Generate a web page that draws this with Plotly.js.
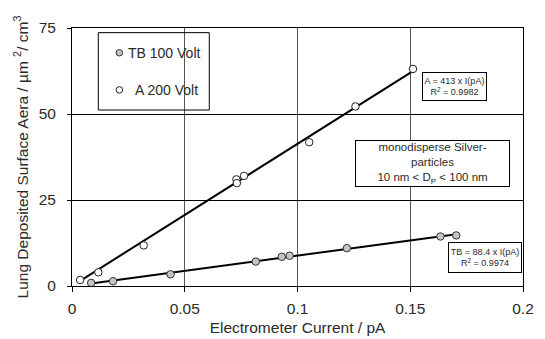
<!DOCTYPE html>
<html>
<head>
<meta charset="utf-8">
<script src="https://cdn.plot.ly/plotly-3.0.1.min.js"></script>
<style>html,body{margin:0;padding:0;background:#fff;}#chart{width:545px;height:339px;}</style>
</head>
<body>
<div id="chart"></div>
<script>
// Series A (200 Volt), open circles
var aX = [0.0036, 0.0117, 0.0318, 0.0729, 0.0731, 0.0763, 0.1052, 0.1257, 0.1512];
var aY = [1.75, 3.98, 11.8, 31.0, 29.9, 32.0, 41.8, 52.2, 63.1];
// Series TB (100 Volt), gray filled circles
var tbX = [0.0085, 0.0182, 0.0437, 0.0815, 0.0930, 0.0965, 0.1219, 0.1634, 0.1704];
var tbY = [0.9, 1.4, 3.4, 7.1, 8.5, 8.8, 11.0, 14.4, 14.7];
// Linear fit lines (end points)
var fitAX = [0.004, 0.151];
var fitAY = [1.65, 62.4];
var fitTBX = [0.0085, 0.1705];
var fitTBY = [0.75, 15.07];
// Axis ticks
var xTicks = [0, 0.05, 0.1, 0.15, 0.2];
var xTickText = ['0', '0.05', '0.1', '0.15', '0.2'];
var yTicks = [0, 25, 50, 75];
// Texts
var legendNames = ['TB 100 Volt', 'A 200 Volt'];
var eqA = 'A = 413 x I(pA)<br>R<sup>2</sup> = 0.9982';
var eqTB = 'TB = 88.4 x I(pA)<br>R<sup>2</sup> = 0.9974';
var noteText = 'monodisperse Silver-<br>particles<br>10 nm &lt; D<sub>P</sub> &lt; 100 nm';

var FONT = 'Arial, "Liberation Sans", Helvetica, sans-serif';
var TXT = '#2a2a2a';

var traces = [
  {x: fitAX, y: fitAY, mode: 'lines', line: {color: '#000', width: 2}, showlegend: false, hoverinfo: 'skip'},
  {x: fitTBX, y: fitTBY, mode: 'lines', line: {color: '#000', width: 2}, showlegend: false, hoverinfo: 'skip'},
  {x: aX, y: aY, mode: 'markers', name: legendNames[1], showlegend: false,
   marker: {symbol: 'circle', size: 7.5, color: '#fff', line: {color: '#222', width: 1}}},
  {x: tbX, y: tbY, mode: 'markers', name: legendNames[0], showlegend: false,
   marker: {symbol: 'circle', size: 7.5, color: '#c4c4c4', line: {color: '#333', width: 1}}},
  // legend markers on overlay axes
  {x: [0.105], y: [0.904], xaxis: 'x2', yaxis: 'y2', mode: 'markers', showlegend: false, hoverinfo: 'skip',
   marker: {symbol: 'circle', size: 6.5, color: '#c4c4c4', line: {color: '#333', width: 1}}},
  {x: [0.105], y: [0.760], xaxis: 'x2', yaxis: 'y2', mode: 'markers', showlegend: false, hoverinfo: 'skip',
   marker: {symbol: 'circle', size: 6.5, color: '#fff', line: {color: '#222', width: 1}}}
];

var layout = {
  width: 545, height: 339,
  margin: {l: 72, r: 22, t: 28, b: 53},
  paper_bgcolor: '#fff', plot_bgcolor: '#fff',
  font: {family: FONT, color: TXT, size: 15},
  showlegend: false,
  xaxis: {
    range: [0, 0.2], tickvals: xTicks, ticktext: xTickText,
    showgrid: true, gridcolor: '#555', gridwidth: 1,
    zeroline: false, showline: true, linecolor: '#000', linewidth: 1, mirror: true,
    ticks: 'outside', ticklen: 5, tickcolor: '#000', ticklabelstandoff: 3,
    tickfont: {size: 15.5, family: FONT, color: TXT},
    title: {text: 'Electrometer Current / pA', font: {size: 15.5, family: FONT, color: TXT}, standoff: 6}
  },
  yaxis: {
    range: [0, 75], tickvals: yTicks,
    showgrid: true, gridcolor: '#000', gridwidth: 1,
    zeroline: false, showline: true, linecolor: '#000', linewidth: 1, mirror: true,
    ticks: 'outside', ticklen: 4, tickcolor: '#000', ticklabelstandoff: 8,
    tickfont: {size: 15.5, family: FONT, color: TXT},
    title: {text: 'Lung Deposited Surface Aera / µm <sup>2</sup>/ cm<sup>3</sup>', font: {size: 15.5, family: FONT, color: TXT}, standoff: 6}
  },
  xaxis2: {overlaying: 'x', range: [0, 1], visible: false, fixedrange: true},
  yaxis2: {overlaying: 'y', range: [0, 1], visible: false, fixedrange: true},
  shapes: [
    {type: 'rect', xref: 'paper', yref: 'paper', x0: 0.0583, x1: 0.3044, y0: 0.682, y1: 0.982,
     line: {color: '#000', width: 1}, fillcolor: 'rgba(255,255,255,0)', layer: 'above'}
  ],
  annotations: [
    {xref: 'paper', yref: 'paper', x: 0.119, y: 0.904, xanchor: 'left', yanchor: 'middle', showarrow: false,
     text: legendNames[0], font: {size: 14, family: FONT, color: TXT}},
    {xref: 'paper', yref: 'paper', x: 0.136, y: 0.760, xanchor: 'left', yanchor: 'middle', showarrow: false,
     text: legendNames[1], font: {size: 14, family: FONT, color: TXT}},
    {xref: 'paper', yref: 'paper', x: 0.848, y: 0.774, xanchor: 'center', yanchor: 'middle', showarrow: false,
     text: eqA, font: {size: 9, family: FONT, color: TXT}, bordercolor: '#000', borderwidth: 1, bgcolor: '#fff',
     width: 63, height: 27, align: 'center', borderpad: 0},
    {xref: 'paper', yref: 'paper', x: 0.916, y: 0.111, xanchor: 'center', yanchor: 'middle', showarrow: false,
     text: eqTB, font: {size: 9, family: FONT, color: TXT}, bordercolor: '#000', borderwidth: 1, bgcolor: '#fff',
     width: 72, height: 29, align: 'center', borderpad: 0},
    {xref: 'paper', yref: 'paper', x: 0.8004, y: 0.4756, xanchor: 'center', yanchor: 'middle', showarrow: false,
     text: noteText, font: {size: 11.5, family: FONT, color: TXT}, bordercolor: '#000', borderwidth: 1, bgcolor: '#fff',
     width: 153, height: 45, align: 'center', borderpad: 0}
  ]
};

Plotly.newPlot('chart', traces, layout, {displayModeBar: false, staticPlot: true});
</script>
</body>
</html>
